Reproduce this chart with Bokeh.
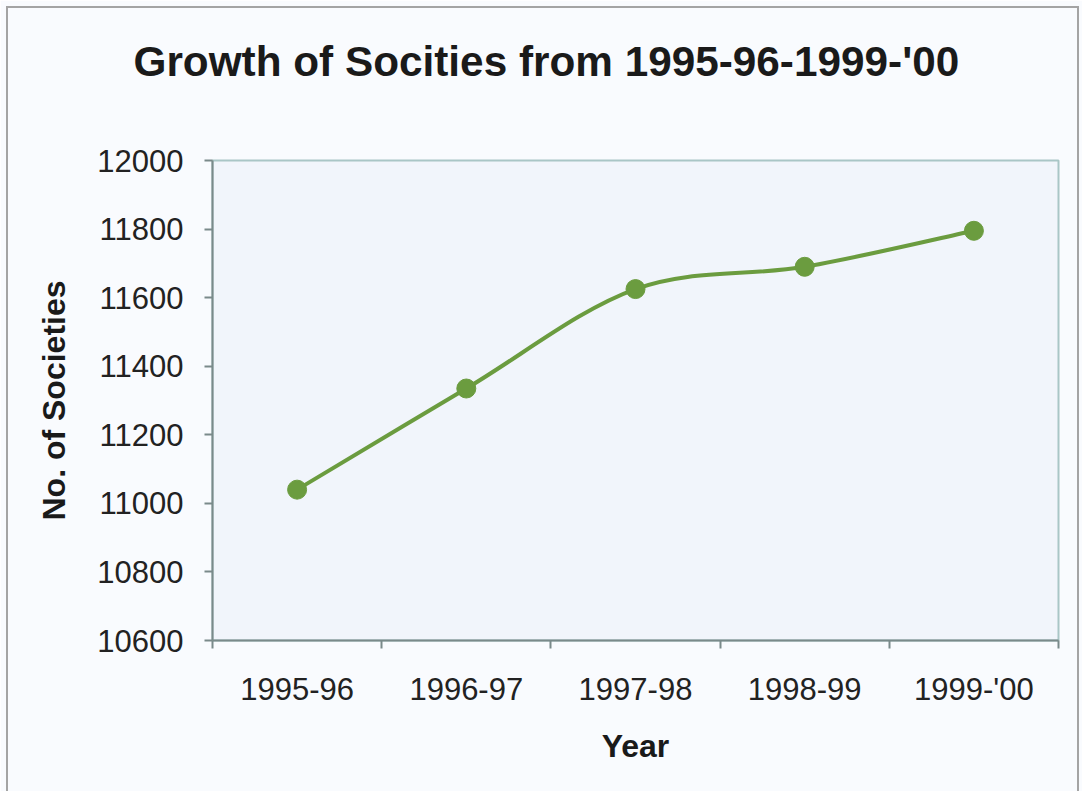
from bokeh.plotting import figure
from bokeh.models import FixedTicker, Range1d, Title
from bokeh.embed import file_html
from bokeh.resources import INLINE

# ---- data ----
years = ["1995-96", "1996-97", "1997-98", "1998-99", "1999-'00"]
societies = [11040, 11335, 11625, 11690, 11795]
y_ticks = [10600, 10800, 11000, 11200, 11400, 11600, 11800, 12000]
title_text = "Growth of Socities from 1995-96-1999-'00"

FONT = "Liberation Sans"
GREEN = "#6b9c3f"

xs = [i + 0.5 for i in range(len(years))]

p = figure(width=1082, height=791, output_backend="svg", toolbar_location=None,
           x_range=Range1d(0, len(years)), y_range=Range1d(y_ticks[0], y_ticks[-1]),
           min_border_left=212, min_border_right=24, min_border_top=160, min_border_bottom=151)
p.background_fill_color = "#f1f5fb"
p.border_fill_color = "#f9fbfe"
p.outline_line_color = "#a9c6c6"
p.outline_line_width = 2
p.grid.visible = False
p.stylesheets = [":host { position: relative; } :host::after { content: ''; position: absolute; "
                 "left: 6px; top: 6px; right: 3px; bottom: -10px; border: 2px solid #a4a4a4; "
                 "pointer-events: none; z-index: 10; }"]

# x axis: ticks on category boundaries, labels at centres
xa = p.xaxis[0]
xa.ticker = FixedTicker(ticks=xs, minor_ticks=list(range(len(years) + 1)))
xa.major_label_overrides = {x: y for x, y in zip(xs, years)}
xa.major_tick_out = 0
xa.major_tick_in = 0
xa.minor_tick_out = 8
xa.minor_tick_in = 0
xa.minor_tick_line_color = "#7a8a8a"
xa.minor_tick_line_width = 2
xa.axis_line_color = "#7a8a8a"
xa.axis_line_width = 2
xa.major_label_text_font = FONT
xa.major_label_text_font_size = "31px"
xa.major_label_text_color = "#222222"
xa.major_label_standoff = 23
xa.axis_label = "Year"
xa.axis_label_text_font = FONT
xa.axis_label_text_font_style = "bold"
xa.axis_label_text_font_size = "32px"
xa.axis_label_text_color = "#1a1a1a"
xa.axis_label_standoff = 18

ya = p.yaxis[0]
ya.ticker = FixedTicker(ticks=y_ticks)
ya.minor_tick_line_color = None
ya.major_tick_out = 8
ya.major_tick_in = 0
ya.major_tick_line_color = "#7a8a8a"
ya.major_tick_line_width = 2
ya.axis_line_color = "#7a8a8a"
ya.axis_line_width = 2
ya.major_label_text_font = FONT
ya.major_label_text_font_size = "31px"
ya.major_label_text_color = "#222222"
ya.major_label_standoff = 21
ya.axis_label = "No. of Societies"
ya.axis_label_text_font = FONT
ya.axis_label_text_font_style = "bold"
ya.axis_label_text_font_size = "32px"
ya.axis_label_text_color = "#1a1a1a"
ya.axis_label_standoff = 22

# smoothed line (Catmull-Rom style bezier through the data points)
n = len(xs)
x0, y0, x1, y1, cx0, cy0, cx1, cy1 = [], [], [], [], [], [], [], []
for i in range(n - 1):
    pm = i - 1 if i > 0 else i
    pp = i + 2 if i + 2 < n else i + 1
    x0.append(xs[i]); y0.append(societies[i])
    x1.append(xs[i + 1]); y1.append(societies[i + 1])
    cx0.append(xs[i] + (xs[i + 1] - xs[pm]) / 6)
    cy0.append(societies[i] + (societies[i + 1] - societies[pm]) / 6)
    cx1.append(xs[i + 1] - (xs[pp] - xs[i]) / 6)
    cy1.append(societies[i + 1] - (societies[pp] - societies[i]) / 6)
p.bezier(x0=x0, y0=y0, x1=x1, y1=y1, cx0=cx0, cy0=cy0, cx1=cx1, cy1=cy1,
         line_color=GREEN, line_width=4)
p.scatter(xs, societies, size=19, fill_color=GREEN, line_color=GREEN)

# title (a blank spacer title keeps the real one well above the frame)
p.title = None
p.add_layout(Title(text=" ", text_font_size="10px", standoff=63), "above")
p.add_layout(Title(text=title_text, text_font=FONT, text_font_style="bold",
                   text_font_size="42.3px", text_color="#1a1a1a",
                   align="left", offset=-79, standoff=0), "above")

open("out.html", "w").write(file_html(p, INLINE))
